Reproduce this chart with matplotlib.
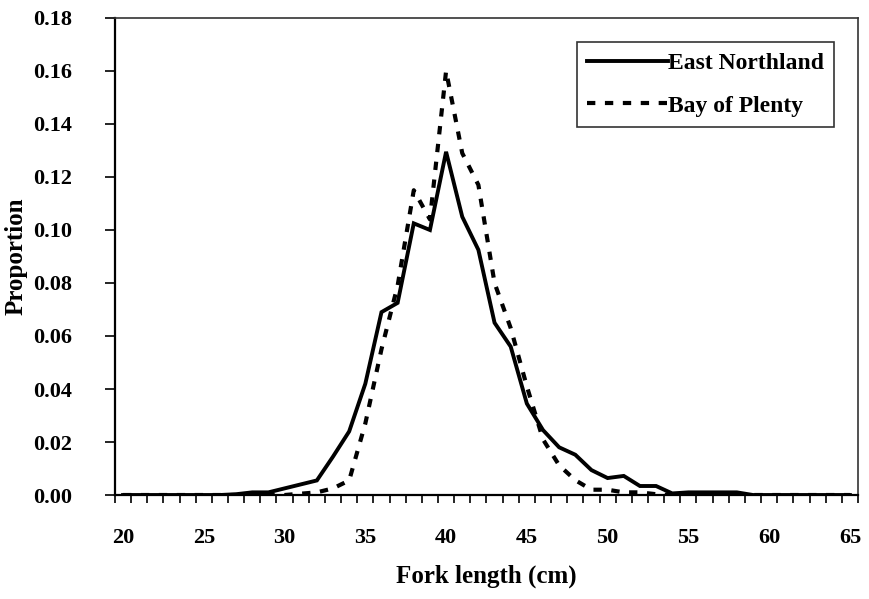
import matplotlib
matplotlib.use("Agg")
import matplotlib.pyplot as plt
from matplotlib.ticker import FixedLocator, FixedFormatter

# Length-frequency proportions by 1 cm fork-length class
lengths = list(range(20, 66))

east_northland = [
    0, 0, 0, 0, 0, 0, 0, 0.0003, 0.001, 0.001,          # 20-29
    0.0025, 0.004, 0.0055, 0.0145, 0.024, 0.042,         # 30-35
    0.069, 0.0725, 0.1025, 0.100, 0.1295, 0.105,         # 36-41
    0.0925, 0.065, 0.056, 0.0345, 0.0245, 0.018,         # 42-47
    0.0152, 0.0094, 0.0064, 0.0072, 0.0034, 0.0034,      # 48-53
    0.0006, 0.001, 0.001, 0.001, 0.001, 0,               # 54-59
    0, 0, 0, 0, 0, 0,                                    # 60-65
]

bay_of_plenty = [
    0, 0, 0, 0, 0, 0, 0, 0, 0, 0,                        # 20-29
    0, 0.0005, 0.001, 0.0025, 0.0055, 0.027,             # 30-35
    0.055, 0.079, 0.115, 0.104, 0.160, 0.129,            # 36-41
    0.117, 0.080, 0.063, 0.041, 0.021, 0.0112,           # 42-47
    0.0056, 0.002, 0.002, 0.001, 0.001, 0.0003,          # 48-53
    0, 0, 0, 0, 0, 0,                                    # 54-59
    0, 0, 0, 0, 0, 0,                                    # 60-65
]

x_labels = [20, 25, 30, 35, 40, 45, 50, 55, 60, 65]
y_ticks = [0.00, 0.02, 0.04, 0.06, 0.08, 0.10, 0.12, 0.14, 0.16, 0.18]

plt.rcParams["font.family"] = ["Liberation Serif", "DejaVu Serif"]
plt.rcParams["font.weight"] = "bold"

fig = plt.figure(figsize=(8.69, 5.99), dpi=100)
ax = fig.add_axes([0.1323, 0.1736, 0.8550, 0.7964])

ax.plot(lengths, east_northland, color="black", lw=2.8,
        solid_joinstyle="miter", label="East Northland")
ax.plot(lengths, bay_of_plenty, color="black", lw=3.0,
        linestyle=(0, (2.0, 2.3)), dash_capstyle="butt",
        label="Bay of Plenty")

ax.set_xlim(19.5, 65.5)
ax.set_ylim(0, 0.18)

# Category-style x axis: tick marks between classes, labels on classes
ax.xaxis.set_minor_locator(FixedLocator([v - 0.5 for v in lengths] + [65.5]))
ax.xaxis.set_major_locator(FixedLocator(x_labels))
ax.xaxis.set_major_formatter(FixedFormatter([str(v) for v in x_labels]))
ax.tick_params(axis="x", which="major", length=0, pad=24, labelsize=16)
ax.tick_params(axis="x", which="minor", length=6, width=1.2, direction="out")

ax.set_yticks(y_ticks)
ax.set_yticklabels([f"{v:.2f}" for v in y_ticks])
ax.tick_params(axis="y", which="major", length=7, width=1.2,
               direction="out", pad=24, labelsize=16)

for lab in ax.get_xticklabels() + ax.get_yticklabels():
    lab.set_fontweight("bold")

for side in ["left", "bottom"]:
    ax.spines[side].set_linewidth(1.6)
for side in ["top", "right"]:
    ax.spines[side].set_linewidth(1.2)
    ax.spines[side].set_color("#333333")

ax.set_xlabel("Fork length (cm)", fontsize=18, fontweight="bold", labelpad=12)
ax.set_ylabel("Proportion", fontsize=18, fontweight="bold")
ax.yaxis.set_label_coords(-0.118, 0.5)

leg = ax.legend(loc="upper right", bbox_to_anchor=(0.968, 0.95),
                fontsize=17, frameon=True, fancybox=False,
                handlelength=3.4, handletextpad=0.0, borderpad=0.45,
                labelspacing=0.9, borderaxespad=0.0)
leg.get_frame().set_edgecolor("black")
leg.get_frame().set_linewidth(1.2)
for t in leg.get_texts():
    t.set_fontweight("bold")

fig.savefig("out.png", dpi=100)
